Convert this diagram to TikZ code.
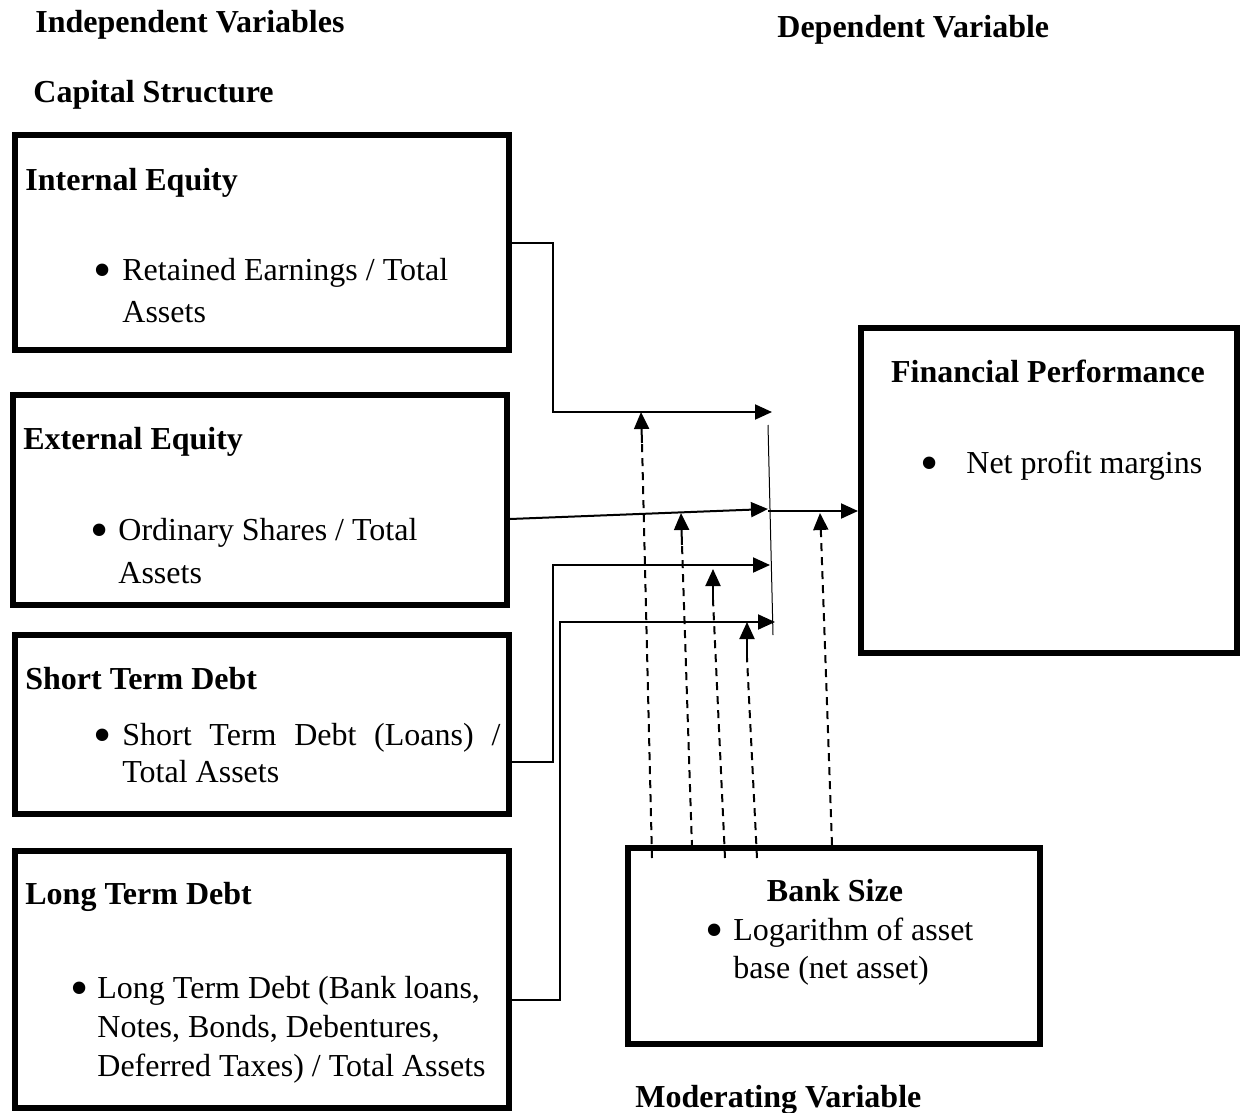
\documentclass[tikz,border=0pt]{standalone}
\usepackage{fontspec}
\setmainfont{Liberation Serif}
\usetikzlibrary{arrows.meta,positioning}

\begin{document}
\begin{tikzpicture}[x=0.5pt,y=-0.5pt,
  box/.style={draw,line width=3pt,inner sep=0pt},
  hd/.style={font=\fontsize{16}{20}\selectfont\bfseries,anchor=base west,inner sep=0pt},
  item/.style={font=\fontsize{16}{21}\selectfont,anchor=base west,align=left,inner sep=0pt},
  dot/.style={font=\fontsize{26}{26}\selectfont,anchor=center,inner sep=0pt},
  arr/.style={line width=1pt,-{Triangle[length=8.5pt,width=7.5pt]}},
  mod/.style={line width=1pt,dash pattern=on 4pt off 3pt}]
\useasboundingbox (0,0) rectangle (1247,1113);

% headings
\node[hd] (indep) at (35,33) {Independent Variables};
\node[hd] (dep) at (777,38) {Dependent Variable};
\node[hd] (capstr) at (33,103) {Capital Structure};
\node[hd] (moder) at (635,1107) {Moderating Variable};

% boxes
\node[box,minimum width=247pt,minimum height=107.5pt] (ie) at (262,242.5) {};
\node[box,minimum width=247pt,minimum height=105pt] (ee) at (260,500) {};
\node[box,minimum width=247pt,minimum height=89.5pt] (st) at (262,724.5) {};
\node[box,minimum width=247pt,minimum height=128.5pt] (lt) at (262,979.5) {};
\node[box,minimum width=188pt,minimum height=162.5pt] (fp) at (1049,490.5) {};
\node[box,minimum width=206pt,minimum height=98pt] (bs) at (834,946) {};

% box texts (multi-line texts sit on their last baseline)
\node[hd] (ieT) at (25,191) {Internal Equity};
\node[dot] (ieD) at (103,276) {\textbullet};
\node[item] (ieX) at (122,322) {Retained Earnings / Total\\Assets};

\node[hd] (eeT) at (23,449) {External Equity};
\node[dot] (eeD) at (100,536) {\textbullet};
\node[item,font=\fontsize{16}{21.5}\selectfont] (eeX) at (118,583) {Ordinary Shares / Total\\Assets};

\node[hd] (stT) at (25,689) {Short Term Debt};
\node[dot] (stD) at (103,741) {\textbullet};
\node[item,font=\fontsize{16}{18.5}\selectfont] (stX) at (122,782)
  {\makebox[189pt][s]{Short Term Debt (Loans) /}\\Total Assets};

\node[hd] (ltT) at (25,904) {Long Term Debt};
\node[dot] (ltD) at (80,994) {\textbullet};
\node[item,font=\fontsize{16}{19.5}\selectfont] (ltX) at (97,1076)
  {Long Term Debt (Bank loans,\\Notes, Bonds, Debentures,\\Deferred Taxes) / Total Assets};

\node[hd,anchor=base] (fpT) at (1048,382) {Financial Performance};
\node[dot] (fpD) at (930,469) {\textbullet};
\node[item] (fpX) at (966,473) {Net profit margins};

\node[hd,anchor=base] (bsT) at (835,901) {Bank Size};
\node[dot] (bsD) at (715,936) {\textbullet};
\node[item,font=\fontsize{16}{19}\selectfont] (bsX) at (733,978) {Logarithm of asset\\base (net asset)};

% joining bar
\coordinate (j1) at (772,412);
\coordinate (j2) at (768,509);
\coordinate (j3) at (770,565);
\coordinate (j4) at (775,622);
\coordinate (jo) at (768,511);
\coordinate (bt) at (768,425);
\coordinate (bb) at (773,635);

\draw[arr] (ie.east) -- ++(41,0) |- (j1);
\draw[arr] ([yshift=-9.5pt]ee.east) -- (j2);
\draw[arr] ([yshift=-18.75pt]st.east) -- ++(41,0) |- (j3);
\draw[arr] ([yshift=-10.25pt]lt.east) -- ++(48,0) |- (j4);
\draw[line width=0.5pt] (bt) -- (bb);
\draw[arr] (jo) -- (fp.west |- jo);

% moderating links
\coordinate (b1) at (652,858); \coordinate (s1) at (642,443); \coordinate (t1) at (641,412);
\coordinate (b2) at (692,848); \coordinate (s2) at (682,545); \coordinate (t2) at (681,513);
\coordinate (b3) at (725,858); \coordinate (s3) at (713,600); \coordinate (t3) at (713,569);
\coordinate (b4) at (757,858); \coordinate (s4) at (747,658); \coordinate (t4) at (747,622);
\coordinate (b5) at (832,845); \coordinate (s5) at (821,535); \coordinate (t5) at (820,513);
\draw[mod] (b1) -- (s1); \draw[arr] (s1) -- (t1);
\draw[mod] (b2) -- (s2); \draw[arr] (s2) -- (t2);
\draw[mod] (b3) -- (s3); \draw[arr] (s3) -- (t3);
\draw[mod] (b4) -- (s4); \draw[arr] (s4) -- (t4);
\draw[mod] (b5) -- (s5); \draw[arr] (s5) -- (t5);
\end{tikzpicture}
\end{document}
